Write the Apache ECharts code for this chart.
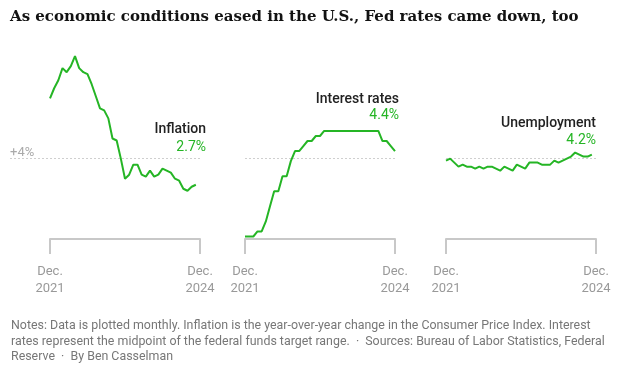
<!DOCTYPE html>
<html>
<head>
<meta charset="utf-8">
<script src="https://cdn.jsdelivr.net/npm/echarts@6/dist/echarts.min.js"></script>
<style>html,body{margin:0;padding:0;background:#fff}#c{width:617px;height:370px}</style>
</head>
<body>
<div id="c"></div>
<script>
// Months Dec 2021 .. Dec 2024
const months = [];
(function(){ const names=['Jan','Feb','Mar','Apr','May','Jun','Jul','Aug','Sep','Oct','Nov','Dec'];
  let y=2021,m=11; for(let i=0;i<37;i++){ months.push(names[m]+' '+y); m++; if(m>11){m=0;y++;} } })();

const tickLabels = {0: 'Dec.\n2021', 36: 'Dec.\n2024'};

// CPI year-over-year change, Dec 2021 - Nov 2024
const inflation = [7.0,7.5,7.9,8.5,8.3,8.6,9.1,8.5,8.3,8.2,7.7,7.1,
  6.5,6.4,6.0,5.0,4.9,4.0,3.0,3.2,3.7,3.7,3.2,3.1,
  3.4,3.1,3.2,3.5,3.4,3.3,3.0,2.9,2.5,2.4,2.6,2.7];

// Federal funds target range midpoint, Dec 2021 - Dec 2024
const interest = [0.125,0.125,0.125,0.375,0.375,0.875,1.625,2.375,2.375,3.125,3.125,3.875,
  4.375,4.375,4.625,4.875,4.875,5.125,5.125,5.375,5.375,5.375,5.375,5.375,
  5.375,5.375,5.375,5.375,5.375,5.375,5.375,5.375,5.375,4.875,4.875,4.625,4.375];

// Unemployment rate, Dec 2021 - Nov 2024
const unemployment = [3.9,4.0,3.8,3.6,3.7,3.6,3.6,3.5,3.6,3.5,3.6,3.6,
  3.5,3.4,3.6,3.5,3.4,3.7,3.6,3.5,3.8,3.8,3.8,3.7,
  3.7,3.7,3.9,3.8,3.9,4.0,4.1,4.3,4.2,4.1,4.1,4.2];

const panelNames = ['Inflation','Interest rates','Unemployment'];
const panelValues = ['2.7%','4.4%','4.2%'];
const refLevel = 4;
const refLabel = '+4%';

const GREEN = '#25b525';
const FONT = 'Roboto, "Liberation Sans", sans-serif';
const panels = [
  {left: 50, width: 150},
  {left: 245, width: 150},
  {left: 446, width: 150}
];
const TOP = 38, H = 201;

const grids = [], xAxes = [], yAxes = [], series = [];
const datas = [inflation, interest, unemployment];
panels.forEach((p, i) => {
  grids.push({left: p.left, top: TOP, width: p.width, height: H});
  xAxes.push({
    type: 'category', gridIndex: i, data: months, boundaryGap: false,
    axisLine: {show: true, lineStyle: {color: '#c8c8c8', width: 2}},
    axisTick: {show: true, length: 15, alignWithLabel: true,
      interval: (idx) => idx === 0 || idx === 36,
      lineStyle: {color: '#c8c8c8', width: 2}},
    axisLabel: {show: true, interval: (idx) => idx === 0 || idx === 36,
      formatter: (v, idx) => tickLabels[idx] || '',
      color: '#999', fontFamily: FONT, fontSize: 13, lineHeight: 17, margin: 24,
      showMinLabel: true, showMaxLabel: true},
    splitLine: {show: false}
  });
  yAxes.push({type: 'value', gridIndex: i, min: 0, max: 10, show: false, splitLine: {show: false}});
  series.push({
    type: 'line', xAxisIndex: i, yAxisIndex: i, data: datas[i],
    symbol: 'none', z: 5,
    lineStyle: {color: GREEN, width: 2},
    markLine: i === 0 ? undefined : {
      silent: true, symbol: 'none', z: 1,
      lineStyle: {color: '#cfcfcf', type: [2, 2], width: 1},
      label: {show: false},
      data: [{yAxis: refLevel}]
    }
  });
});

// overlay grid for the first panel's reference line, extending to the left
grids.push({left: 10, top: TOP, width: 190, height: H});
xAxes.push({type: 'value', gridIndex: 3, min: 0, max: 1, show: false});
yAxes.push({type: 'value', gridIndex: 3, min: 0, max: 10, show: false, splitLine: {show: false}});
series.push({
  type: 'line', xAxisIndex: 3, yAxisIndex: 3, data: [], symbol: 'none', z: 1,
  markLine: {
    silent: true, symbol: 'none',
    lineStyle: {color: '#cfcfcf', type: [2, 2], width: 1},
    label: {show: true, position: 'insideStartTop', formatter: refLabel, color: '#aaa',
      fontFamily: FONT, fontSize: 13, distance: [0, -1]},
    data: [{yAxis: refLevel}]
  }
});

const labelPos = [
  {x: 206, y1: 131, y2: 149},
  {x: 399, y1: 101, y2: 117},
  {x: 596, y1: 125, y2: 142}
];
const graphics = [];
labelPos.forEach((p, i) => {
  graphics.push({type: 'text', right: 617 - p.x, top: p.y1 - 9,
    style: {text: panelNames[i], fill: '#222', font: '500 14px ' + FONT}});
  graphics.push({type: 'text', right: 617 - p.x, top: p.y2 - 9,
    style: {text: panelValues[i], fill: GREEN, font: '14px ' + FONT}});
});
graphics.push({type: 'text', left: 10, top: 10,
  style: {text: 'As economic conditions eased in the U.S., Fed rates came down, too',
    fill: '#121212', font: 'bold 15px "DejaVu Serif", serif'}});
graphics.push({type: 'text', left: 11, top: 318,
  style: {text: 'Notes: Data is plotted monthly. Inflation is the year-over-year change in the Consumer Price Index. Interest\nrates represent the midpoint of the federal funds target range.  \u00b7  Sources: Bureau of Labor Statistics, Federal\nReserve  \u00b7  By Ben Casselman',
    fill: '#777', font: '12.4px ' + FONT, lineHeight: 15.7}});

const chart = echarts.init(document.getElementById('c'), null, {renderer: 'canvas'});
chart.setOption({
  animation: false,
  grid: grids, xAxis: xAxes, yAxis: yAxes, series: series,
  graphic: graphics
});
</script>
</body>
</html>
